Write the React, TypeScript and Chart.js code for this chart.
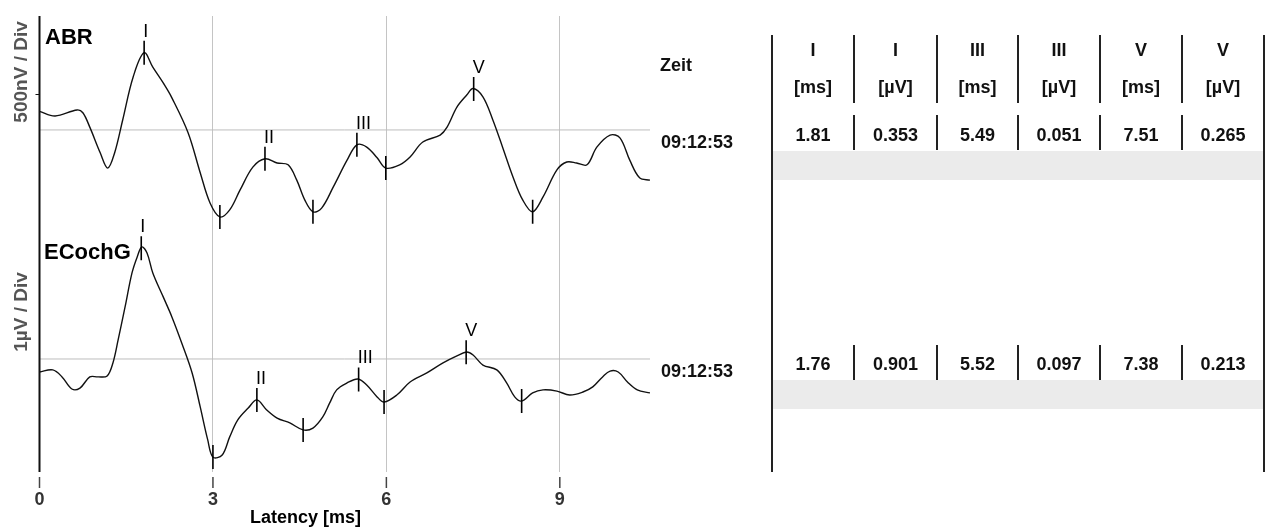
import React, { useEffect, useLayoutEffect, useRef } from "react";
import { Chart, registerables } from "chart.js";

Chart.register(...registerables);

const FONT = '"Liberation Sans", Arial, Helvetica, sans-serif';
const W = 1269;
const H = 527;

// ---- x axis (latency, ms)
const X_MAX = 10.56;
const X_TICKS = [0, 3, 6, 9];

// ---- ABR trace (µV, relative to its baseline)
const abrTimes = [
  0.0, 0.27, 0.65, 0.75, 0.87, 1.05, 1.18, 1.3, 1.44, 1.62, 1.81, 1.96, 2.14, 2.29, 2.57, 2.78, 2.95,
  3.12, 3.29, 3.47, 3.69, 3.9, 4.11, 4.3, 4.45, 4.59, 4.73, 4.88, 5.08, 5.32, 5.49, 5.66, 5.84, 5.99,
  6.23, 6.41, 6.63, 6.93, 7.05, 7.22, 7.39, 7.5, 7.67, 7.84, 8.01, 8.19, 8.36, 8.53, 8.71, 8.95, 9.12,
  9.29, 9.47, 9.64, 9.87, 10.04, 10.21, 10.38, 10.56,
];
const abrValues = [
  0.04, 0.03, 0.043, 0.037, 0.006, -0.049, -0.082, -0.049, 0.022, 0.114, 0.166, 0.135, 0.101, 0.069,
  -0.006, -0.092, -0.157, -0.187, -0.172, -0.129, -0.08, -0.062, -0.071, -0.075, -0.108, -0.151, -0.176,
  -0.168, -0.123, -0.065, -0.032, -0.037, -0.06, -0.082, -0.075, -0.058, -0.026, -0.011, 0.006, 0.049,
  0.075, 0.089, 0.071, 0.022, -0.037, -0.101, -0.151, -0.176, -0.144, -0.086, -0.069, -0.071, -0.075,
  -0.037, -0.011, -0.017, -0.065, -0.103, -0.108,
];

// ---- ECochG trace (µV, relative to its baseline)
const ecogTimes = [
  0.0, 0.23, 0.39, 0.56, 0.7, 0.87, 1.01, 1.17, 1.27, 1.36, 1.48, 1.6, 1.69, 1.77, 1.86, 1.96, 2.14,
  2.29, 2.46, 2.64, 2.78, 2.91, 3.0, 3.16, 3.29, 3.43, 3.61, 3.76, 3.93, 4.11, 4.33, 4.56, 4.73, 4.9,
  5.02, 5.14, 5.32, 5.51, 5.66, 5.84, 5.96, 6.18, 6.41, 6.7, 6.98, 7.22, 7.39, 7.5, 7.67, 7.91, 8.08,
  8.22, 8.34, 8.53, 8.71, 8.95, 9.17, 9.4, 9.57, 9.74, 9.87, 10.01, 10.17, 10.34, 10.56,
];
const ecogValues = [
  -0.056, -0.047, -0.077, -0.129, -0.125, -0.077, -0.077, -0.073, -0.017, 0.082, 0.224, 0.37, 0.439,
  0.482, 0.456, 0.37, 0.267, 0.181, 0.069, -0.06, -0.206, -0.348, -0.422, -0.413, -0.335, -0.262,
  -0.211, -0.176, -0.219, -0.254, -0.275, -0.305, -0.297, -0.249, -0.189, -0.133, -0.103, -0.086,
  -0.112, -0.163, -0.185, -0.155, -0.099, -0.06, -0.017, 0.013, 0.03, 0.017, -0.026, -0.047, -0.103,
  -0.163, -0.181, -0.146, -0.133, -0.138, -0.155, -0.142, -0.12, -0.077, -0.052, -0.056, -0.099,
  -0.133, -0.146,
];

// ---- wave markers (ms)
const abrPeakTimes = [1.81, 3.9, 5.49, 7.51];
const abrPeakLabels = ["I", "II", "III", "V"];
const abrTroughTimes = [3.12, 4.73, 5.99, 8.53];
const ecogPeakTimes = [1.76, 3.76, 5.52, 7.38];
const ecogPeakLabels = ["I", "II", "III", "V"];
const ecogTroughTimes = [3.0, 4.56, 5.96, 8.34];

// ---- vertical scaling (divisions)
const ABR_UV_PER_DIV = 0.5;
const ECOG_UV_PER_DIV = 1;
const Y_RANGE_DIV = 1.961;
const ABR_OFFSET_DIV = 1.471;
const ECOG_OFFSET_DIV = 0.486;
const ABR_SCALE_MARK_UV = 0.077;

// ---- result table
const tableHeaderWaves = ["I", "I", "III", "III", "V", "V"];
const tableHeaderUnits = ["[ms]", "[µV]", "[ms]", "[µV]", "[ms]", "[µV]"];
const abrRow = ["1.81", "0.353", "5.49", "0.051", "7.51", "0.265"];
const ecogRow = ["1.76", "0.901", "5.52", "0.097", "7.38", "0.213"];
const recordTimes = ["09:12:53", "09:12:53"];

function interp(ts: number[], vs: number[], t: number): number {
  for (let i = 0; i < ts.length - 1; i++) {
    if (t >= ts[i] && t <= ts[i + 1]) {
      const f = (t - ts[i]) / (ts[i + 1] - ts[i]);
      return vs[i] + f * (vs[i + 1] - vs[i]);
    }
  }
  return vs[vs.length - 1];
}

const toDiv = (v: number, perDiv: number, off: number) => off + v / perDiv;

export default function App() {
  const canvasRef = useRef<HTMLCanvasElement>(null);

  useLayoutEffect(() => {
    document.body.style.margin = "0";
    document.documentElement.style.overflow = "hidden";
    document.body.style.overflow = "hidden";
  }, []);

  useEffect(() => {
    const canvas = canvasRef.current;
    if (!canvas) return;

    const abrData = abrTimes.map((t, i) => ({ x: t, y: toDiv(abrValues[i], ABR_UV_PER_DIV, ABR_OFFSET_DIV) }));
    const ecogData = ecogTimes.map((t, i) => ({ x: t, y: toDiv(ecogValues[i], ECOG_UV_PER_DIV, ECOG_OFFSET_DIV) }));
    const abrMarkers = [...abrPeakTimes, ...abrTroughTimes].map((t) => ({
      x: t,
      y: toDiv(interp(abrTimes, abrValues, t), ABR_UV_PER_DIV, ABR_OFFSET_DIV),
    }));
    const ecogMarkers = [...ecogPeakTimes, ...ecogTroughTimes].map((t) => ({
      x: t,
      y: toDiv(interp(ecogTimes, ecogValues, t), ECOG_UV_PER_DIV, ECOG_OFFSET_DIV),
    }));

    const baseline = (off: number) => ({
      data: [
        { x: 0, y: off },
        { x: X_MAX, y: off },
      ],
      showLine: true,
      borderColor: "#bdbdbd",
      borderWidth: 1,
      pointRadius: 0,
      order: 5,
    });
    const trace = (data: any[]) => ({
      data,
      showLine: true,
      borderColor: "#111111",
      borderWidth: 1.4,
      pointRadius: 0,
      tension: 0.35,
      order: 2,
    });
    const markers = (data: any[]) => ({
      data,
      showLine: false,
      pointStyle: "line",
      rotation: 90,
      pointRadius: 12,
      pointBorderWidth: 1.6,
      pointBorderColor: "#000",
      borderColor: "#000",
      order: 1,
    });

    const overlay = {
      id: "overlay",
      afterDatasetsDraw(chart: any) {
        const ctx = chart.ctx as CanvasRenderingContext2D;
        const xs = chart.scales.x;
        const ys = chart.scales.y;
        const area = chart.chartArea;
        ctx.save();

        // left axis line
        ctx.strokeStyle = "#111";
        ctx.lineWidth = 2;
        ctx.beginPath();
        ctx.moveTo(area.left, area.top);
        ctx.lineTo(area.left, area.bottom);
        ctx.stroke();

        // small scale notch
        const ny = ys.getPixelForValue(toDiv(ABR_SCALE_MARK_UV, ABR_UV_PER_DIV, ABR_OFFSET_DIV));
        ctx.lineWidth = 1;
        ctx.beginPath();
        ctx.moveTo(area.left - 4, Math.round(ny) + 0.5);
        ctx.lineTo(area.left, Math.round(ny) + 0.5);
        ctx.stroke();

        // x tick marks (detached below the plot)
        ctx.strokeStyle = "#444";
        ctx.lineWidth = 1.5;
        X_TICKS.forEach((v) => {
          const px = xs.getPixelForValue(v);
          ctx.beginPath();
          ctx.moveTo(px, area.bottom + 5);
          ctx.lineTo(px, area.bottom + 16);
          ctx.stroke();
        });

        // x title
        ctx.fillStyle = "#000";
        ctx.font = `bold 18px ${FONT}`;
        ctx.textAlign = "center";
        ctx.textBaseline = "alphabetic";
        ctx.fillText("Latency [ms]", xs.getPixelForValue(4.6), area.bottom + 51);

        // trace names
        ctx.font = `bold 22px ${FONT}`;
        ctx.textAlign = "left";
        ctx.fillStyle = "#000";
        ctx.fillText("ABR", area.left + 5.5, area.top + 28);
        ctx.fillText("ECochG", area.left + 4.5, ys.getPixelForValue(ECOG_OFFSET_DIV) - 100);

        // y division labels
        ctx.fillStyle = "#555";
        ctx.font = `bold 19px ${FONT}`;
        ctx.textAlign = "center";
        ctx.textBaseline = "middle";
        const drawRot = (txt: string, cx: number, cy: number) => {
          ctx.save();
          ctx.translate(cx, cy);
          ctx.rotate(-Math.PI / 2);
          ctx.fillText(txt, 0, 0);
          ctx.restore();
        };
        drawRot("500nV / Div", area.left - 18, ys.getPixelForValue(ABR_OFFSET_DIV) - 58);
        drawRot("1µV / Div", area.left - 18, ys.getPixelForValue(ECOG_OFFSET_DIV) - 47);

        // wave labels
        ctx.fillStyle = "#000";
        ctx.font = `18px ${FONT}`;
        ctx.textAlign = "left";
        ctx.textBaseline = "alphabetic";
        abrPeakTimes.forEach((t, i) => {
          const px = xs.getPixelForValue(t);
          const py = ys.getPixelForValue(toDiv(interp(abrTimes, abrValues, t), ABR_UV_PER_DIV, ABR_OFFSET_DIV));
          ctx.fillText(abrPeakLabels[i], px - 1, py - 16);
        });
        ecogPeakTimes.forEach((t, i) => {
          const px = xs.getPixelForValue(t);
          const py = ys.getPixelForValue(toDiv(interp(ecogTimes, ecogValues, t), ECOG_UV_PER_DIV, ECOG_OFFSET_DIV));
          ctx.fillText(ecogPeakLabels[i], px - 1, py - 16);
        });
        ctx.restore();
      },
    };

    const chart = new Chart(canvas, {
      type: "scatter",
      data: {
        datasets: [
          baseline(ABR_OFFSET_DIV),
          baseline(ECOG_OFFSET_DIV),
          trace(abrData),
          trace(ecogData),
          markers(abrMarkers),
          markers(ecogMarkers),
        ] as any,
      },
      options: {
        responsive: false,
        animation: false,
        devicePixelRatio: 1,
        layout: { padding: { left: 39.5, right: W - 650, top: 16, bottom: 0 } },
        plugins: { legend: { display: false }, tooltip: { enabled: false } },
        scales: {
          x: {
            type: "linear",
            min: 0,
            max: X_MAX,
            afterBuildTicks: (s: any) => {
              s.ticks = X_TICKS.map((v) => ({ value: v }));
            },
            afterFit: (s: any) => {
              s.height = H - 472;
            },
            grid: {
              color: (c: any) => (c.tick && c.tick.value === 0 ? "rgba(0,0,0,0)" : "#c4c4c4"),
              drawTicks: false,
              lineWidth: 1,
            },
            border: { display: false },
            ticks: {
              font: { family: FONT, size: 18, weight: "bold" },
              color: "#333",
              padding: 17,
              autoSkip: false,
              maxRotation: 0,
            },
          },
          y: { display: false, min: 0, max: Y_RANGE_DIV },
        },
      } as any,
      plugins: [overlay],
    });
    return () => chart.destroy();
  }, []);

  const colLines = [772, 854, 937, 1018, 1100, 1182, 1264];
  const colCenters = colLines.slice(0, 6).map((x, i) => (x + colLines[i + 1]) / 2);
  const textStyle = (cx: number, cy: number): React.CSSProperties => ({
    position: "absolute",
    left: cx - 40,
    width: 80,
    top: cy - 10,
    height: 20,
    lineHeight: "20px",
    textAlign: "center",
    fontWeight: "bold",
    fontSize: 18,
    color: "#111",
    whiteSpace: "nowrap",
  });
  const vline = (x: number, y1: number, y2: number, w: number, key: string) => (
    <div
      key={key}
      style={{ position: "absolute", left: x - w / 2, top: y1, width: w, height: y2 - y1, background: "#222" }}
    />
  );
  const rows = [
    { vals: abrRow, top: 115, bottom: 150, cy: 134.5, band: 151 },
    { vals: ecogRow, top: 345, bottom: 380, cy: 364, band: 380 },
  ];

  return (
    <div
      style={{
        position: "relative",
        width: W,
        height: H,
        overflow: "hidden",
        fontFamily: FONT,
        background: "#fff",
      }}
    >
      <canvas
        ref={canvasRef}
        width={W}
        height={H}
        style={{ position: "absolute", left: 0, top: 0, width: W, height: H }}
      />
      <div style={{ ...textStyle(0, 65), left: 660, width: 60, textAlign: "left" }}>Zeit</div>
      <div style={{ ...textStyle(0, 141.5), left: 661, width: 90, textAlign: "left" }}>{recordTimes[0]}</div>
      <div style={{ ...textStyle(0, 371), left: 661, width: 90, textAlign: "left" }}>{recordTimes[1]}</div>

      {rows.map((r, ri) => (
        <div
          key={"band" + ri}
          style={{ position: "absolute", left: 773, top: r.band, width: 1263 - 773, height: 29, background: "#ebebeb" }}
        />
      ))}

      {vline(772, 35, 472, 2, "outerL")}
      {vline(1264, 35, 472, 2, "outerR")}
      {colLines.slice(1, 6).map((x, i) => vline(x, 35, 103, 1.5, "h" + i))}
      {rows.map((r, ri) => colLines.slice(1, 6).map((x, i) => vline(x, r.top, r.bottom, 1.5, "r" + ri + "_" + i)))}

      {tableHeaderWaves.map((t, i) => (
        <div key={"hw" + i} style={textStyle(colCenters[i], 50)}>
          {t}
        </div>
      ))}
      {tableHeaderUnits.map((t, i) => (
        <div key={"hu" + i} style={textStyle(colCenters[i], 87)}>
          {t}
        </div>
      ))}
      {rows.map((r, ri) =>
        r.vals.map((v, i) => (
          <div key={"v" + ri + "_" + i} style={textStyle(colCenters[i], r.cy)}>
            {v}
          </div>
        ))
      )}
    </div>
  );
}
